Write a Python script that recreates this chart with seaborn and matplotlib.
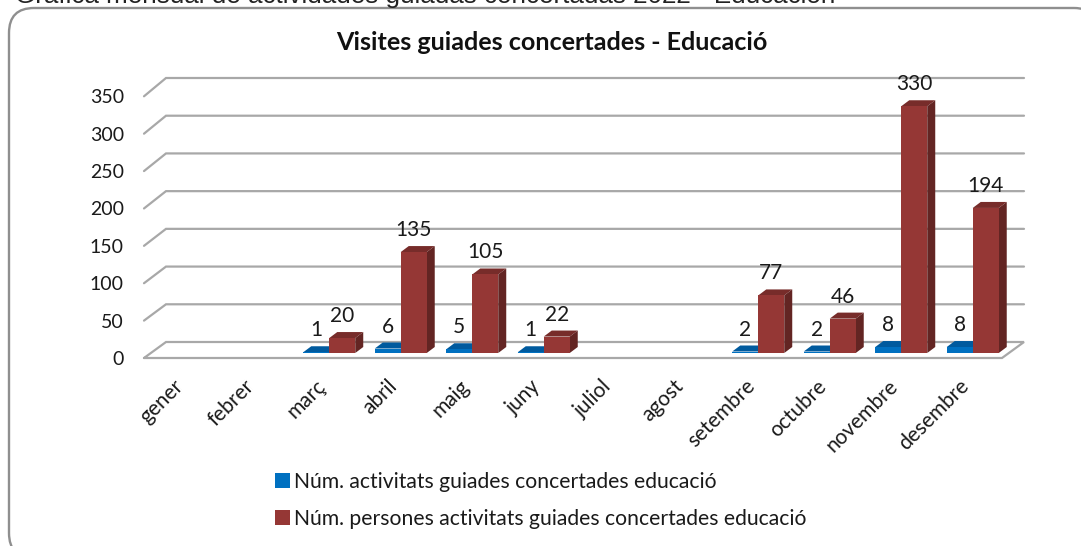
import numpy as np
import pandas as pd
import matplotlib
matplotlib.use("Agg")
import matplotlib.pyplot as plt
from matplotlib.patches import FancyBboxPatch, Polygon
import seaborn as sns

months = ["gener", "febrer", "març", "abril", "maig", "juny", "juliol", "agost",
          "setembre", "octubre", "novembre", "desembre"]
activitats = [0, 0, 1, 6, 5, 1, 0, 0, 2, 2, 8, 8]
persones = [0, 0, 20, 135, 105, 22, 0, 0, 77, 46, 330, 194]
serie_a = "Núm. activitats guiades concertades educació"
serie_p = "Núm. persones activitats guiades concertades educació"
title = "Visites guiades concertades - Educació"
top_caption = "Gráfica mensual de actividades guiadas concertadas 2022 - Educación"
yticks = [0, 50, 100, 150, 200, 250, 300, 350]

W, H = 1081, 546
sns.set_theme(style="white")
plt.rcParams["font.family"] = ["Lato", "DejaVu Sans"]
TXT = "#1a1a1a"
GRID = "#a8a8a8"

df = pd.DataFrame({"mes": months * 2,
                   "valor": activitats + persones,
                   "serie": [serie_a] * 12 + [serie_p] * 12})

fig = plt.figure(figsize=(W / 100, H / 100), dpi=100, facecolor="white")

def px_axes(left, top, right, bottom, **kw):
    return fig.add_axes([left / W, 1 - bottom / H, (right - left) / W, (bottom - top) / H], **kw)

# page layer: rounded card and cut-off caption
bg = fig.add_axes([0, 0, 1, 1])
bg.set_xlim(0, W)
bg.set_ylim(H, 0)
bg.axis("off")
bg.add_patch(FancyBboxPatch((34, 33), 1040, 500, boxstyle="round,pad=25,rounding_size=25",
                            fc="white", ec="#8f8f8f", lw=1.7, clip_on=True))
bg.text(15, 3, top_caption, family="Liberation Sans", fontsize=18.7, color="#222222",
        ha="left", va="baseline")
bg.text(552, 42, title, fontsize=18.05, fontweight="bold", color="#111111", ha="center", va="center")

# front plane of the chart box
FL, FR, FB, FT = 144, 1002, 358, 96.3
ax = px_axes(FL, FT, FR, FB, facecolor="none")
ax.set_xlim(-0.5, 11.5)
ax.set_ylim(0, 350)
for s in ax.spines.values():
    s.set_visible(False)
ux = (FR - FL) / 12      # px per category
uy = (FB - FT) / 350     # px per unit
wall_dx = 22 / ux
wall_base, wall_scale = 16 / uy, (264 / 350) / uy   # rear wall sits higher and is slightly taller
for v in yticks:
    back = wall_base + v * wall_scale
    if v == 0:
        xs = [-0.5, -0.5 + wall_dx, 11.5 + wall_dx, 11.5, -0.5]
        ys = [0, back, back, 0, 0]
    else:
        xs = [-0.5, -0.5 + wall_dx, 11.5 + wall_dx]
        ys = [v, back, back]
    ax.plot(xs, ys, color=GRID, lw=1.6, clip_on=False, solid_joinstyle="miter", zorder=1)
ax.set_yticks(yticks)
ax.set_yticklabels([str(v) for v in yticks], fontsize=14, color=TXT)
ax.set_xticks(range(12))
ax.set_xticklabels(months, rotation=45, ha="right", va="center", rotation_mode="anchor",
                   fontsize=15, color=TXT)
ax.tick_params(axis="y", length=0, pad=14.5)
ax.tick_params(axis="x", length=0, pad=18)

# bars sit slightly behind the front plane
SX, SY = 6.5, 5
axb = px_axes(FL + SX, FT - SY, FR + SX, FB - SY, facecolor="none")
sns.barplot(data=df, x="mes", y="valor", hue="serie", hue_order=[serie_a, serie_p],
            order=months, palette=["#0070c0", "#953735"], saturation=1, width=0.727,
            gap=0, ax=axb, legend=True, errorbar=None, linewidth=0)
axb.set_xlim(-0.5, 11.5)
axb.set_ylim(0, 350)
handles, labels = axb.get_legend_handles_labels()
axb.get_legend().remove()
axb.axis("off")

dx, dy = 8 / ux, 6 / uy
shades = [("#005a9e", "#00508c"), ("#772c2a", "#632523")]
for cont, (top_c, side_c), vals, z in zip(axb.containers, shades, [activitats, persones], [3, 4]):
    for p, v in zip(cont.patches, vals):
        p.set_zorder(z + 0.5)
        if v == 0:
            continue
        x0, w = p.get_x(), p.get_width()
        x1 = x0 + w
        axb.add_patch(Polygon([(x0, v), (x0 + dx, v + dy), (x1 + dx, v + dy), (x1, v)],
                              fc=top_c, ec="none", zorder=z, clip_on=False))
        axb.add_patch(Polygon([(x1, 0), (x1 + dx, dy), (x1 + dx, v + dy), (x1, v)],
                              fc=side_c, ec="none", zorder=z, clip_on=False))
        axb.annotate(str(v), (x0 + w / 2, v), xytext=(0, 22 * 0.72), textcoords="offset points",
                     ha="center", va="center", fontsize=15, color=TXT, zorder=10,
                     annotation_clip=False)

fig.legend(handles, labels, loc="upper left", bbox_to_anchor=(275 / W, 1 - 472 / H), frameon=False,
           fontsize=15.2, labelcolor=TXT, handlelength=0.72, handleheight=0.72, handletextpad=0.18,
           labelspacing=0.79, borderpad=0, borderaxespad=0)

fig.savefig("out.png", dpi=100)
